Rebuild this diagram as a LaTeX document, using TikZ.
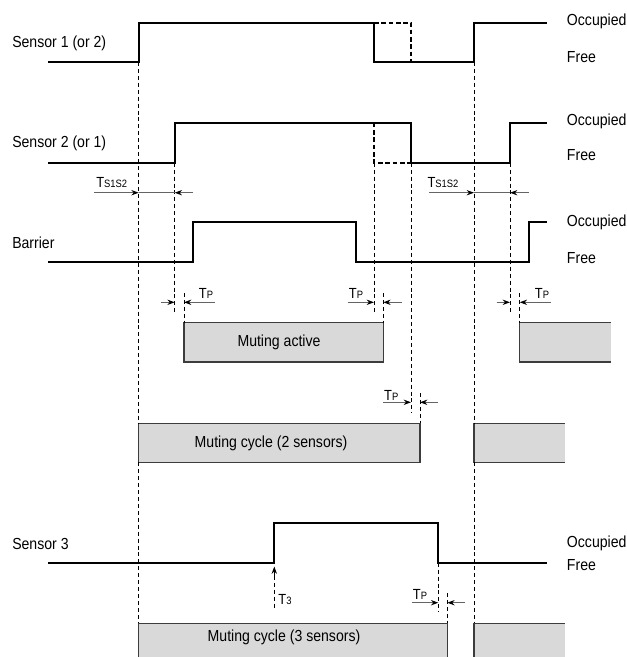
\documentclass[tikz,border=0pt]{standalone}
\usepackage{fontspec}
\setmainfont{Liberation Sans}[FakeStretch=0.88]
\usetikzlibrary{arrows.meta}
\definecolor{cinzaCaixa}{RGB}{217,217,217}
\definecolor{cinzaBorda}{RGB}{60,60,60}
\definecolor{cinzaCota}{RGB}{100,100,100}
\newcommand{\tmp}[1]{{\fontsize{11}{11}\selectfont T\fontsize{8}{8}\selectfont #1}}
\tikzset{
  sinal/.style={line width=1.5pt, line join=miter},
  oculto/.style={line width=1.5pt, dash pattern=on 3.5pt off 2pt},
  guia/.style={line width=0.6pt, dash pattern=on 3pt off 2.2pt},
  cota/.style={-{Stealth[length=5.5pt,width=4pt,color=black]}, line width=0.8pt, cinzaCota},
  faixa/.style={fill=cinzaCaixa},
  borda/.style={draw=cinzaBorda, line width=0.8pt},
  rotulo/.style={anchor=west, inner sep=0pt, font=\fontsize{12}{14}\selectfont},
  tempo/.style={inner sep=0pt},
}

\begin{document}
\begin{tikzpicture}[x=0.75pt,y=-0.75pt]
  \useasboundingbox (0,0) rectangle (626,657);

  % faixas de muting
  \fill[faixa] (184,322.7) rectangle (383.3,362);
  \draw[borda] (184,322.7) rectangle (383.3,362);
  \fill[faixa] (519.7,322.7) rectangle (610.7,362);
  \draw[borda] (610.7,322.7) -- (519.7,322.7) -- (519.7,362) -- (610.7,362);
  \fill[faixa] (138.7,423.3) rectangle (420,462.3);
  \draw[borda] (138.7,423.3) rectangle (420,462.3);
  \fill[faixa] (474,423.3) rectangle (565,462.3);
  \draw[borda] (565,423.3) -- (474,423.3) -- (474,462.3) -- (565,462.3);
  \fill[faixa] (138.7,623.3) rectangle (447.3,657);
  \draw[borda] (138.7,657) -- (138.7,623.3) -- (447.3,623.3) -- (447.3,657);
  \fill[faixa] (474,623.3) rectangle (565,657);
  \draw[borda] (474,657) -- (474,623.3) -- (565,623.3);

  \node[tempo, font=\fontsize{12}{14}\selectfont] (ativo) at (279,342.5) {Muting active};
  \node[tempo, font=\fontsize{12}{14}\selectfont] (ciclo2) at (271,443) {Muting cycle (2 sensors)};
  \node[tempo, font=\fontsize{12}{14}\selectfont] (ciclo3) at (284,637) {Muting cycle (3 sensors)};

  % linhas guia
  \draw[guia] (138.7,62) -- (138.7,423.3) (138.7,462.3) -- (138.7,623.3);
  \draw[guia] (474,62) -- (474,423.3) (474,462.3) -- (474,623.3);
  \draw[guia] (174.7,162.7) -- (174.7,311.7);
  \draw[guia] (374,162.7) -- (374,311.7);
  \draw[guia] (411,162.7) -- (411,413);
  \draw[guia] (510,162.7) -- (510,311.7);
  \draw[guia] (184,293) -- (184,322.7);
  \draw[guia] (383.3,293) -- (383.3,322.7);
  \draw[guia] (519.7,293) -- (519.7,322.7);
  \draw[guia] (420,393) -- (420,423.3);
  \draw[guia] (438.3,562.7) -- (438.3,612);
  \draw[guia] (447.3,593) -- (447.3,623.3);
  \draw[guia] (274.3,576) -- (274.3,609);

  % sinais
  \draw[sinal] (48,62) -- (138.7,62) -- (138.7,22.7) -- (374,22.7) -- (374,62)
    -- (474,62) -- (474,22.7) -- (546.7,22.7);
  \draw[oculto] (374,22.7) -- (411,22.7) -- (411,62);
  \draw[sinal] (48,162.7) -- (174.7,162.7) -- (174.7,122.7) -- (411,122.7) -- (411,162.7)
    -- (510,162.7) -- (510,122.7) -- (546.7,122.7);
  \draw[oculto] (374,122.7) -- (374,162.7) -- (411,162.7);
  \draw[sinal] (48,262.3) -- (192.7,262.3) -- (192.7,222.3) -- (356,222.3) -- (356,262.3)
    -- (528.7,262.3) -- (528.7,222.3) -- (546.7,222.3);
  \draw[sinal] (48,562.7) -- (274.3,562.7) -- (274.3,523.3) -- (438.3,523.3) -- (438.3,562.7)
    -- (546.7,562.7);

  % cotas
  \draw[cota] (94,192.7) -- (138.7,192.7);
  \draw[cota] (193,192.7) -- (174.7,192.7);
  \draw[line width=0.7pt, cinzaCota] (138.7,192.7) -- (174.7,192.7);
  \draw[cota] (429,192.7) -- (474,192.7);
  \draw[cota] (528.7,192.7) -- (510,192.7);
  \draw[line width=0.7pt, cinzaCota] (474,192.7) -- (510,192.7);
  \draw[cota] (161,302.3) -- (174.7,302.3);
  \draw[cota] (215,302.3) -- (184,302.3);
  \draw[cota] (347.7,302.3) -- (374,302.3);
  \draw[cota] (401.7,302.3) -- (383.3,302.3);
  \draw[cota] (496.7,302.3) -- (510,302.3);
  \draw[cota] (550.7,302.3) -- (519.7,302.3);
  \draw[cota] (383.3,402.3) -- (411,402.3);
  \draw[cota] (438.3,402.3) -- (420,402.3);
  \draw[cota] (411.7,602.7) -- (438.3,602.7);
  \draw[cota] (465,602.7) -- (447.3,602.7);
  \draw[cota, draw=black] (274.3,578) -- (274.3,566.5);

  \node[tempo] (ts1) at (111.7,183) {\tmp{S1S2}};
  \node[tempo] (ts2) at (443,183) {\tmp{S1S2}};
  \node[tempo] (tp1) at (206,293) {\tmp{P}};
  \node[tempo] (tp2) at (356,293) {\tmp{P}};
  \node[tempo] (tp3) at (542,293) {\tmp{P}};
  \node[tempo] (tp4) at (391.3,395) {\tmp{P}};
  \node[tempo] (tp5) at (420,594) {\tmp{P}};
  \node[tempo] (t3) at (285,599) {\tmp{3}};

  % rotulos
  \node[rotulo] (s1) at (12,43) {Sensor 1 (or 2)};
  \node[rotulo] (s2) at (12,143) {Sensor 2 (or 1)};
  \node[rotulo] (bar) at (12,242.3) {Barrier};
  \node[rotulo] (s3) at (12,544) {Sensor 3};
  \node[rotulo] (oc1) at (566.7,21.7) {Occupied};
  \node[rotulo] (fr1) at (566.7,56.7) {Free};
  \node[rotulo] (oc2) at (566.7,121.7) {Occupied};
  \node[rotulo] (fr2) at (566.7,155.5) {Free};
  \node[rotulo] (oc3) at (566.7,222.7) {Occupied};
  \node[rotulo] (fr3) at (566.7,258.3) {Free};
  \node[rotulo] (oc4) at (566.7,543.7) {Occupied};
  \node[rotulo] (fr4) at (566.7,565) {Free};
\end{tikzpicture}
\end{document}
